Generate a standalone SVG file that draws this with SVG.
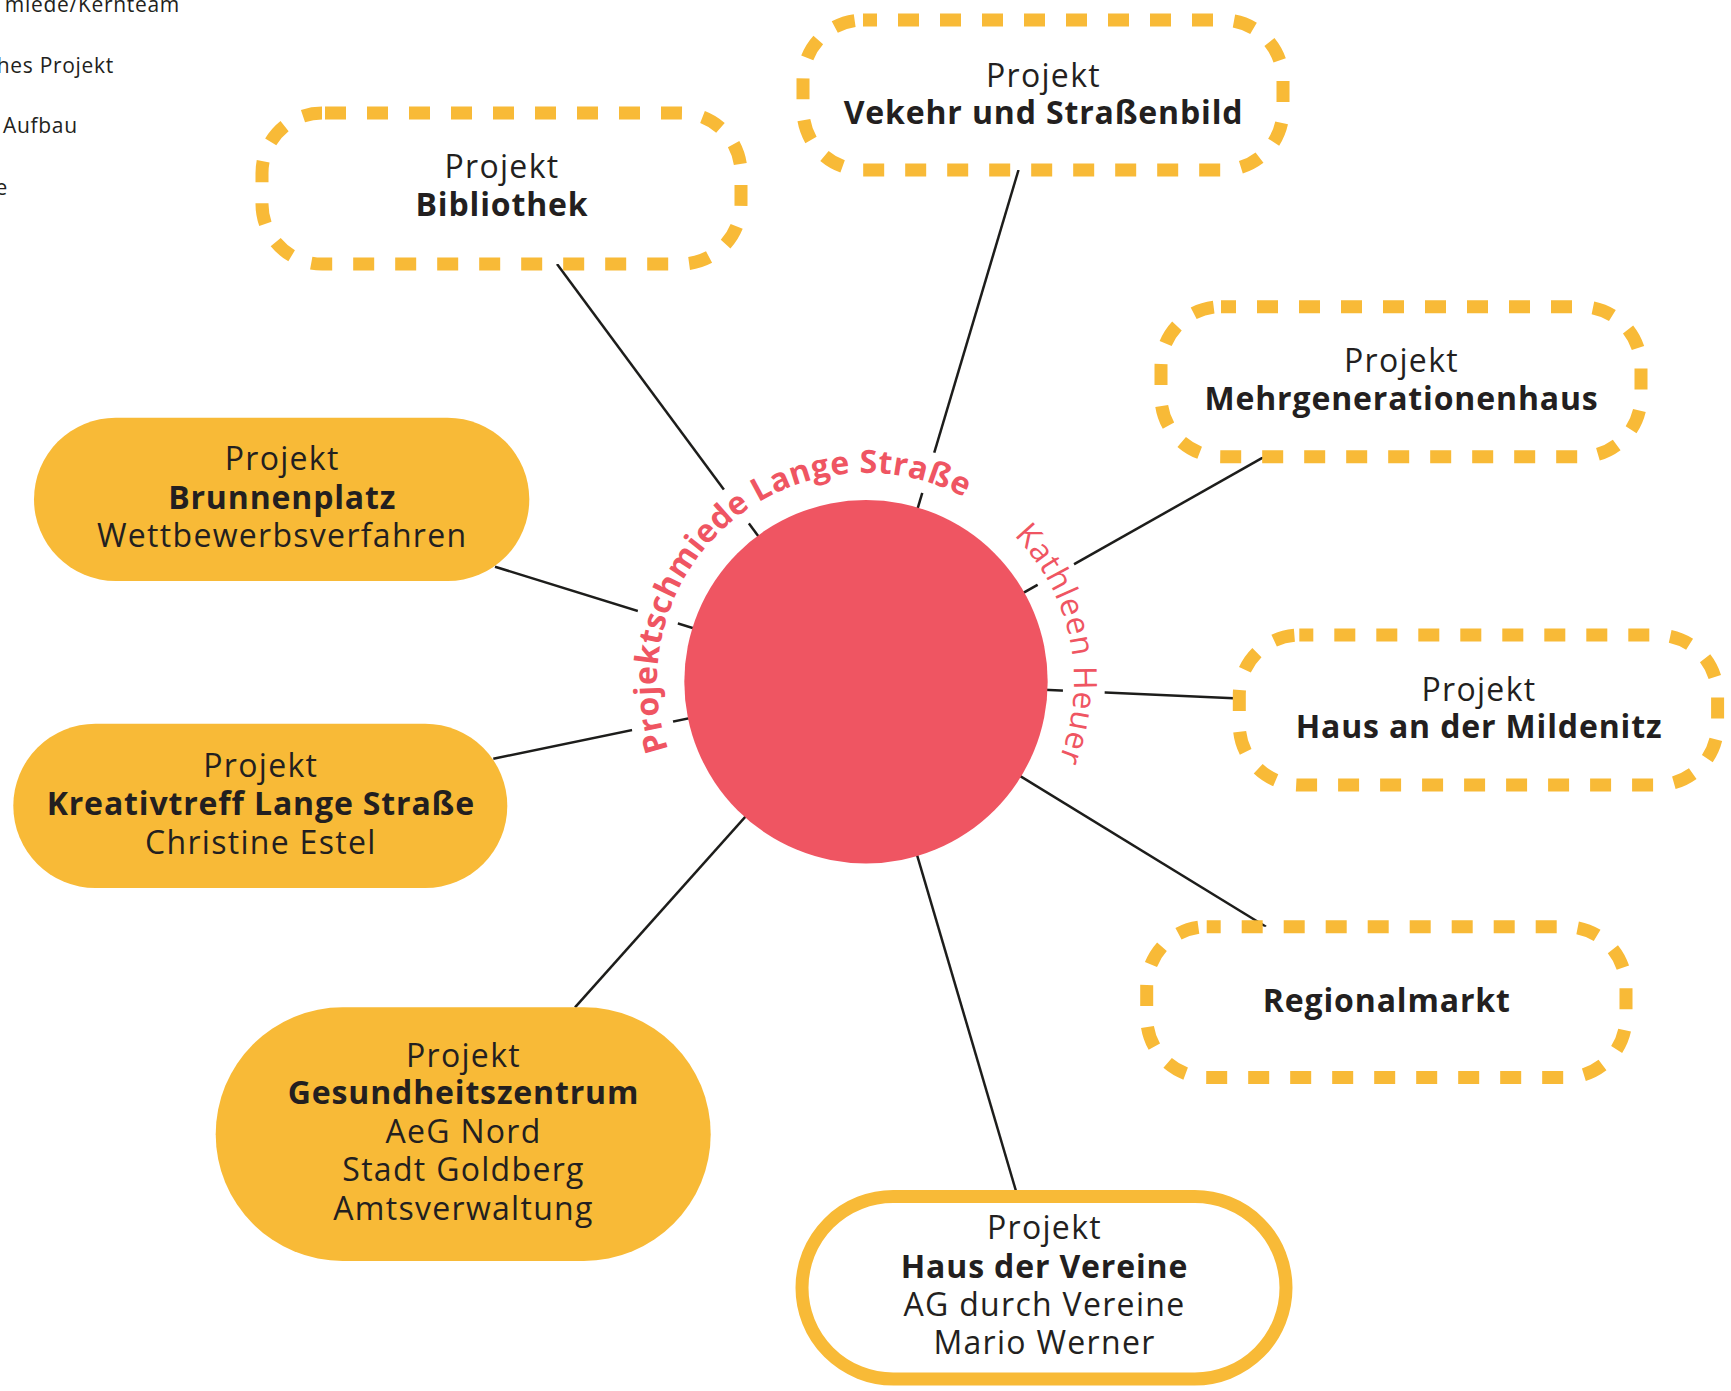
<svg xmlns="http://www.w3.org/2000/svg" width="1731" height="1391" viewBox="0 0 1731 1391">
<style>
  .bg { fill: #ffffff; }
  .conn { stroke: #1d1d1b; stroke-width: 2.5; fill: none; }
  .halo { stroke: #ffffff; stroke-width: 42; fill: none; }
  .dashed { fill: #ffffff; stroke: #f8ba37; stroke-width: 13; stroke-dasharray: 21 21; }
  .solid { fill: #ffffff; stroke: #f8ba37; stroke-width: 13; }
  .filled { fill: #f8ba37; stroke: none; }
  .t { font-family: "Open Sans", "Liberation Sans", sans-serif; font-size: 32px; fill: #231f20; text-anchor: middle; letter-spacing: 1.3px; }
  .b { font-weight: 700; letter-spacing: 0.85px; }
  .legend { font-family: "Open Sans", "Liberation Sans", sans-serif; font-size: 21px; fill: #231f20; letter-spacing: 0.7px; }
  .arc { font-family: "Open Sans", "Liberation Sans", sans-serif; font-size: 32px; fill: #ef5562; }
  .arcb { font-weight: 700; }
</style>
<defs>
  <path id="arcTop" d="M 685.8 787.6 A 209 209 0 0 1 999.1 520.6"/>
  <path id="arcRight" d="M 932.5 484.6 A 208 208 0 0 1 1003.4 837.9"/>
</defs>
<rect class="bg" x="0" y="0" width="1731" height="1391"/>

<g id="legend">
  <text class="legend" x="180" y="12" text-anchor="end">miede/Kernteam</text>
  <text class="legend" x="114" y="73" text-anchor="end">hes Projekt</text>
  <text class="legend" x="3" y="133">Aufbau</text>
  <text class="legend" x="8" y="195" text-anchor="end">e</text>
</g>

<g id="connectors">
  <line class="conn" x1="866" y1="681.7" x2="557" y2="264"/>
  <line class="conn" x1="866" y1="681.7" x2="1018.5" y2="170"/>
  <line class="conn" x1="866" y1="681.7" x2="1264.5" y2="456.7"/>
  <line class="conn" x1="866" y1="681.7" x2="1239.3" y2="698.5"/>
  <line class="conn" x1="866" y1="681.7" x2="1266" y2="926.7"/>
  <line class="conn" x1="866" y1="681.7" x2="1017.6" y2="1196.5"/>
  <line class="conn" x1="866" y1="681.7" x2="575" y2="1007.3"/>
  <line class="conn" x1="866" y1="681.7" x2="493.3" y2="758.7"/>
  <line class="conn" x1="866" y1="681.7" x2="495" y2="566.7"/>
</g>

<g id="label-halo">
  <path class="halo" d="M 663.9 763.4 A 218 218 0 0 1 975 492.9"/>
  <path class="halo" d="M 1014.7 522.3 A 218 218 0 0 1 1065.1 770.4"/>
</g>

<g id="center">
  <circle cx="866" cy="681.7" r="181.7" fill="#ef5562"/>
  <text class="arc arcb"><textPath href="#arcTop" startOffset="50%" text-anchor="middle" textLength="500" lengthAdjust="spacing">Projektschmiede Lange Straße</textPath></text>
  <text class="arc"><textPath href="#arcRight" startOffset="50%" text-anchor="middle" textLength="242" lengthAdjust="spacing">Kathleen Heuer</textPath></text>
</g>

<g id="node-bibliothek">
  <rect class="dashed" x="262" y="113" width="479" height="151" rx="60" ry="60" stroke-dashoffset="39"/>
  <text class="t" x="502" y="178.3">Projekt</text>
  <text class="t b" x="502" y="216">Bibliothek</text>
</g>

<g id="node-verkehr">
  <rect class="dashed" x="803" y="20" width="480" height="150" rx="60" ry="60" stroke-dashoffset="7"/>
  <text class="t" x="1043.5" y="86.5">Projekt</text>
  <text class="t b" x="1043.5" y="124">Vekehr und Straßenbild</text>
</g>

<g id="node-mehrgenerationenhaus">
  <rect class="dashed" x="1161" y="306.7" width="480" height="150" rx="60" ry="60" stroke-dashoffset="6"/>
  <text class="t" x="1401.5" y="371.7">Projekt</text>
  <text class="t b" x="1401.5" y="410">Mehrgenerationenhaus</text>
</g>

<g id="node-mildenitz">
  <rect class="dashed" x="1239.3" y="635" width="478.3" height="150" rx="60" ry="60" stroke-dashoffset="7"/>
  <text class="t" x="1479" y="700.7">Projekt</text>
  <text class="t b" x="1479" y="738.3">Haus an der Mildenitz</text>
</g>

<g id="node-regionalmarkt">
  <rect class="dashed" x="1146.7" y="926.7" width="479.3" height="150.7" rx="60" ry="60" stroke-dashoffset="7"/>
  <text class="t b" x="1386.8" y="1011.7">Regionalmarkt</text>
</g>

<g id="node-vereine">
  <rect class="solid" x="802" y="1196.5" width="484" height="182.5" rx="91.25" ry="91.25"/>
  <text class="t" x="1044.5" y="1239.2">Projekt</text>
  <text class="t b" x="1044.5" y="1277.6">Haus der Vereine</text>
  <text class="t" x="1044.5" y="1316">AG durch Vereine</text>
  <text class="t" x="1044.5" y="1354.4">Mario Werner</text>
</g>

<g id="node-gesundheitszentrum">
  <rect class="filled" x="215.7" y="1007.3" width="495" height="253.7" rx="126.85" ry="126.85"/>
  <text class="t" x="463.5" y="1066.7">Projekt</text>
  <text class="t b" x="463.5" y="1104.3">Gesundheitszentrum</text>
  <text class="t" x="463.5" y="1143.3">AeG Nord</text>
  <text class="t" x="463.5" y="1181">Stadt Goldberg</text>
  <text class="t" x="463.5" y="1220">Amtsverwaltung</text>
</g>

<g id="node-kreativtreff">
  <rect class="filled" x="13.3" y="723.7" width="494" height="164.3" rx="82.15" ry="82.15"/>
  <text class="t" x="260.8" y="777">Projekt</text>
  <text class="t b" x="260.8" y="815.3">Kreativtreff Lange Straße</text>
  <text class="t" x="260.8" y="853.7">Christine Estel</text>
</g>

<g id="node-brunnenplatz">
  <rect class="filled" x="34" y="417.7" width="495.3" height="163.3" rx="81.65" ry="81.65"/>
  <text class="t" x="282.2" y="470">Projekt</text>
  <text class="t b" x="282.2" y="509">Brunnenplatz</text>
  <text class="t" x="282.2" y="546.7">Wettbewerbsverfahren</text>
</g>
</svg>
